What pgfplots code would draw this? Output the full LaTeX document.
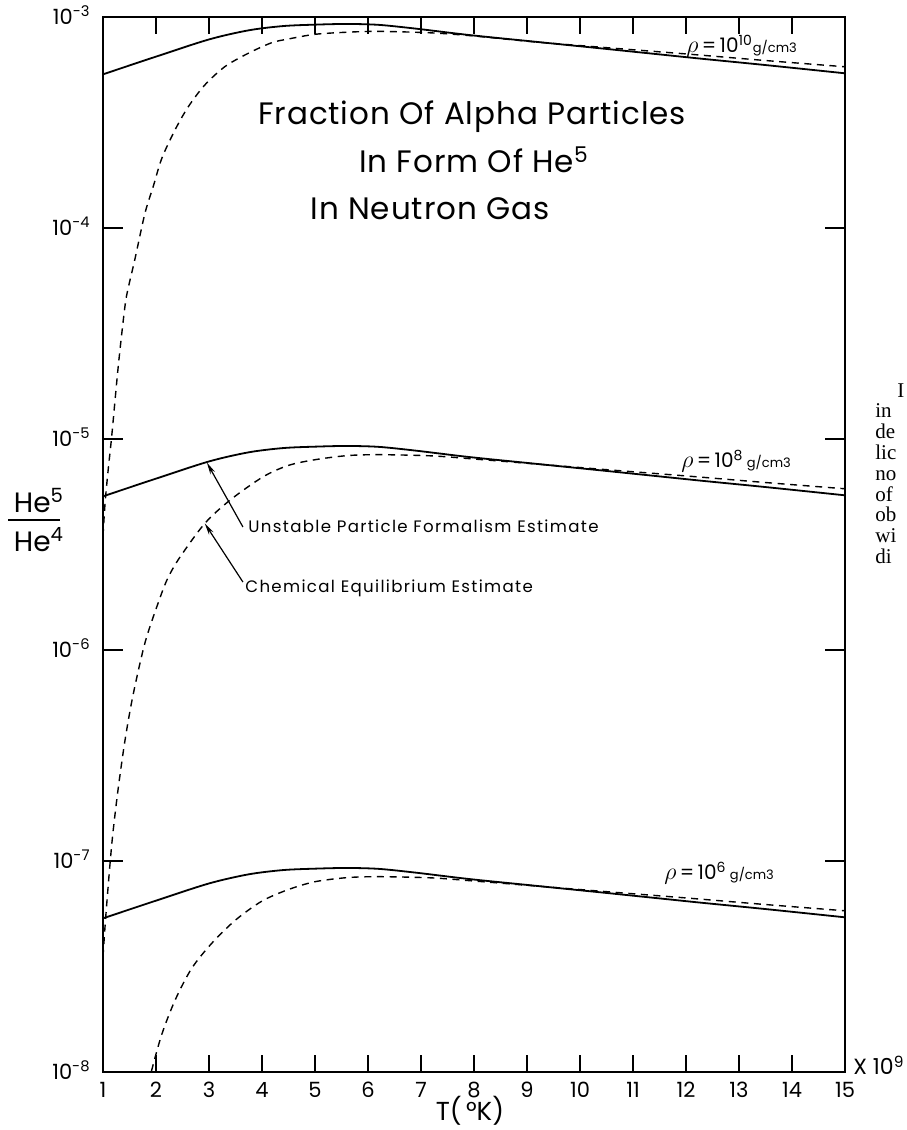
\documentclass[border=0pt]{standalone}
\usepackage{fontspec}
\setmainfont{Poppins}
\newfontfamily\seriffont{Liberation Serif}
\newfontfamily\spaced[LetterSpace=8]{Poppins}
\newfontfamily\titlefont[LetterSpace=3]{Poppins}
\usepackage{pgfplots}
\pgfplotsset{compat=1.18}
\usetikzlibrary{arrows.meta}
\newcommand{\rhosym}{{\fontsize{13}{14}\selectfont$\rho$}}

% solid curves (unstable particle formalism), dashed (chemical equilibrium)
\pgfplotstableread{
T y
1.0 5.35e-8
2.0 6.49e-8
3.0 7.83e-8
3.75 8.65e-8
4.4 9.06e-8
5.0 9.20e-8
5.6 9.27e-8
6.2 9.18e-8
6.9 8.81e-8
7.9 8.22e-8
9.1 7.66e-8
10.4 7.10e-8
11.5 6.65e-8
12.3 6.34e-8
13.5 5.92e-8
15.0 5.41e-8
}\solidsix
\pgfplotstableread{
T y
1.0 5.35e-6
2.0 6.49e-6
3.0 7.83e-6
3.75 8.65e-6
4.4 9.06e-6
5.0 9.20e-6
5.6 9.27e-6
6.2 9.18e-6
6.9 8.81e-6
7.9 8.22e-6
9.1 7.66e-6
10.4 7.10e-6
11.5 6.65e-6
12.3 6.34e-6
13.5 5.92e-6
15.0 5.41e-6
}\solideight
\pgfplotstableread{
T y
1.0 5.35e-4
2.0 6.49e-4
3.0 7.83e-4
3.75 8.65e-4
4.4 9.06e-4
5.0 9.20e-4
5.6 9.27e-4
6.2 9.18e-4
6.9 8.81e-4
7.9 8.22e-4
9.1 7.66e-4
10.4 7.10e-4
11.5 6.65e-4
12.3 6.34e-4
13.5 5.92e-4
15.0 5.41e-4
}\solidten
\pgfplotstableread{
T y
1.75 6.76e-9
1.91 1.00e-8
2.11 1.51e-8
2.36 2.19e-8
2.67 3.09e-8
3.05 4.07e-8
3.5 5.25e-8
4.0 6.46e-8
4.5 7.33e-8
5.0 7.98e-8
5.6 8.34e-8
6.2 8.43e-8
7.2 8.32e-8
8.0 8.04e-8
9.1 7.64e-8
10.4 7.19e-8
11.5 6.84e-8
12.3 6.59e-8
13.5 6.22e-8
15.0 5.81e-8
}\dashsix
\pgfplotstableread{
T y
1.0 3.52e-8
1.05 5.37e-8
1.13 9.55e-8
1.19 1.38e-7
1.29 2.24e-7
1.42 3.80e-7
1.57 6.17e-7
1.8 1.10e-6
2.08 1.78e-6
2.23 2.21e-6
2.45 2.75e-6
2.92 3.98e-6
3.4 5.14e-6
4.02 6.62e-6
4.5 7.50e-6
5.0 7.98e-6
5.6 8.34e-6
6.2 8.43e-6
7.2 8.32e-6
8.0 8.04e-6
9.1 7.64e-6
10.4 7.19e-6
11.5 6.84e-6
12.3 6.59e-6
13.5 6.22e-6
15.0 5.81e-6
}\dasheight
\pgfplotstableread{
T y
1.0 3.47e-6
1.04 5.01e-6
1.1 7.24e-6
1.165 1.035e-5
1.29 2.24e-5
1.415 4.27e-5
1.48 5.25e-5
1.60 7.08e-5
1.79 1.17e-4
1.95 1.58e-4
2.11 2.14e-4
2.36 2.92e-4
2.61 3.76e-4
2.92 4.76e-4
3.30 5.82e-4
3.74 6.73e-4
4.18 7.55e-4
4.5 7.87e-4
5.0 8.28e-4
5.6 8.47e-4
6.2 8.55e-4
7.2 8.41e-4
8.0 8.13e-4
9.1 7.64e-4
10.4 7.19e-4
11.5 6.84e-4
12.3 6.59e-4
13.5 6.22e-4
15.0 5.81e-4
}\dashten

\begin{document}
\begin{tikzpicture}
\useasboundingbox (0,0) rectangle (453pt,565pt);
\clip (0,0) rectangle (453pt,565pt);
\begin{axis}[
  at={(51.5pt,29pt)}, anchor=south west,
  width=371pt, height=527.5pt, scale only axis,
  xmin=1, xmax=15, ymode=log, ymin=1e-8, ymax=1e-3,
  xtick={1,2,3,4,5,6,7,8,9,10,11,12,13,14,15},
  xticklabels={1,2,3,4,5,6,7,8,9,10,11,12,13,14,15},
  ytick={1e-8,1e-7,1e-6,1e-5,1e-4,1e-3},
  yticklabels={10\textsuperscript{-8},10\textsuperscript{-7},10\textsuperscript{-6},10\textsuperscript{-5},10\textsuperscript{-4},10\textsuperscript{-3}},
  yminorticks=false, xminorticks=false,
  axis line style={line width=1pt},
  tick style={black, line width=0.8pt},
  tick align=inside,
  xtick style={/pgfplots/major tick length=8.5pt},
  ytick style={/pgfplots/major tick length=10pt},
  xticklabel style={font=\fontsize{10.5}{12}\selectfont, anchor=north, inner sep=0pt, yshift=-5pt},
  yticklabel style={font=\fontsize{10.5}{12}\selectfont, anchor=base east, inner sep=0pt, xshift=-6pt, yshift=-3.5pt},
  clip=true,
]
\addplot[black, line width=0.9pt, smooth] table {\solidsix};
\addplot[black, line width=0.9pt, smooth] table {\solideight};
\addplot[black, line width=0.9pt, smooth] table {\solidten};
\addplot[black, line width=0.7pt, smooth, dash pattern=on 3.5pt off 2.8pt] table {\dashsix};
\addplot[black, line width=0.7pt, smooth, dash pattern=on 3.5pt off 2.8pt] table {\dasheight};
\addplot[black, line width=0.7pt, smooth, dash pattern=on 3.5pt off 2.8pt] table {\dashten};
\draw[line width=0.6pt, -{Stealth[length=6pt,width=2.6pt]}] (axis cs:3.64,3.83e-6) -- (axis cs:2.96,7.73e-6);
\draw[line width=0.6pt, -{Stealth[length=6pt,width=2.6pt]}] (axis cs:3.64,2.10e-6) -- (axis cs:2.92,3.98e-6);
\end{axis}
% title
\node[anchor=base, font=\titlefont\fontsize{15.5}{18}\selectfont] at (236pt,502.5pt) {Fraction Of Alpha Particles};
\node[anchor=base, font=\titlefont\fontsize{15.5}{18}\selectfont] at (237pt,478.5pt) {In Form Of He\textsuperscript{5}};
\node[anchor=base, font=\titlefont\fontsize{15.5}{18}\selectfont] at (215pt,455pt) {In Neutron Gas};
% density labels
\node[anchor=base west, inner sep=0pt, font=\fontsize{10}{12}\selectfont] at (343pt,538.5pt) {\rhosym\,=\,10\textsuperscript{10}{\fontsize{6.5}{8}\selectfont g/cm3}};
\node[anchor=base west, inner sep=0pt, font=\fontsize{10}{12}\selectfont] at (340.5pt,331pt) {\rhosym\,=\,10\textsuperscript{8}{\fontsize{6.5}{8}\selectfont\ g/cm3}};
\node[anchor=base west, inner sep=0pt, font=\fontsize{10}{12}\selectfont] at (332pt,125pt) {\rhosym\,=\,10\textsuperscript{6}{\fontsize{6.5}{8}\selectfont\ g/cm3}};
% annotations
\node[anchor=west, inner sep=0pt, font=\spaced\fontsize{8.3}{10}\selectfont] at (124pt,302pt) {Unstable Particle Formalism Estimate};
\node[anchor=west, inner sep=0pt, font=\spaced\fontsize{8.3}{10}\selectfont] at (122.5pt,271pt) {Chemical Equilibrium Estimate};
% axis labels
\node[anchor=base, inner sep=0pt, font=\fontsize{14}{16}\selectfont] at (19.5pt,308.5pt) {He\textsuperscript{5}};
\draw[line width=0.8pt] (4pt,305pt) -- (30pt,305pt);
\node[anchor=base, inner sep=0pt, font=\fontsize{14}{16}\selectfont] at (19.5pt,289pt) {He\textsuperscript{4}};
\node[anchor=base, inner sep=0pt, font=\fontsize{13}{15}\selectfont] at (235pt,5pt) {T(\,°K)};
\node[anchor=base west, inner sep=0pt, font=\fontsize{11}{12}\selectfont] at (426.5pt,27.5pt) {X 10\textsuperscript{9}};
% text of the neighbouring column, cut by the page edge
\begin{scope}[every node/.style={anchor=base west, inner sep=0pt, font=\seriffont\fontsize{10.5}{12}\selectfont}]
\node at (448.5pt,366pt) {I};
\node at (437.5pt,356pt) {in};
\node at (437.5pt,345.6pt) {de};
\node at (437.5pt,335.2pt) {lic};
\node at (437.5pt,324.8pt) {no};
\node at (437.5pt,314.4pt) {of};
\node at (437.5pt,304pt) {ob};
\node at (437.5pt,293.6pt) {wi};
\node at (437.5pt,283.2pt) {di};
\end{scope}
\end{tikzpicture}
\end{document}
